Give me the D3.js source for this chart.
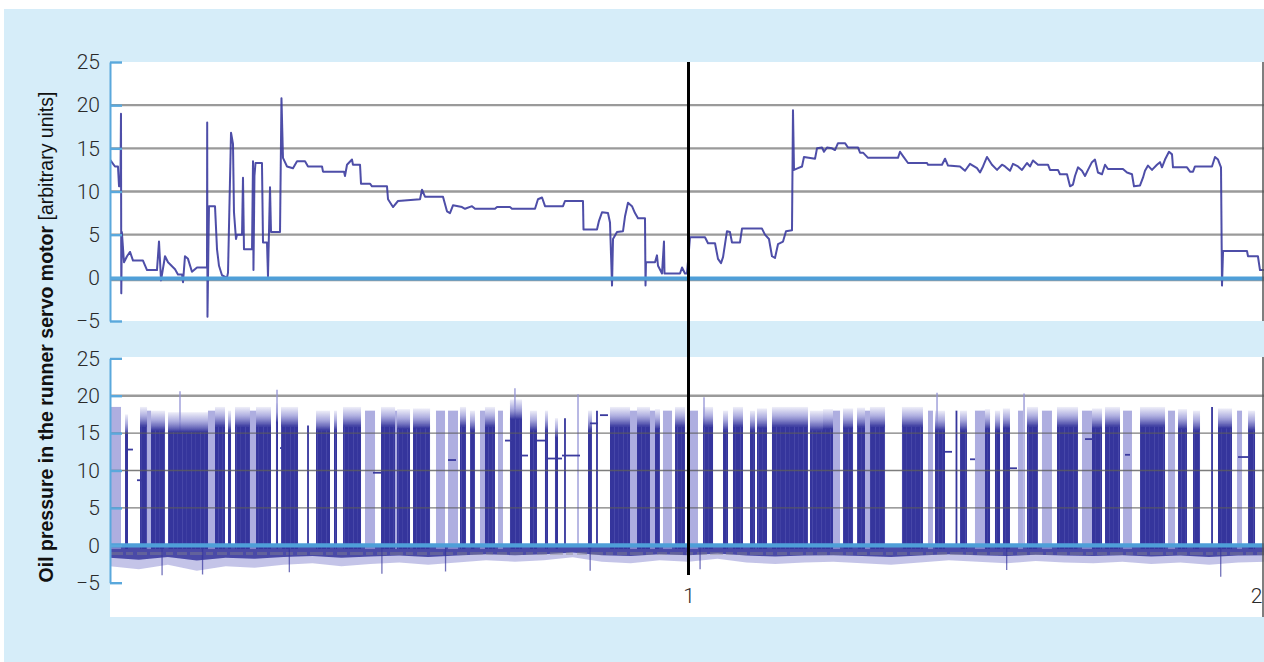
<!DOCTYPE html>
<html>
<head>
<meta charset="utf-8">
<script src="https://cdn.jsdelivr.net/npm/d3@7/dist/d3.min.js"></script>
<style>
  html, body { margin: 0; padding: 0; background: #ffffff; }
  svg { display: block; }
  .tick text { font-family: Roboto, "Liberation Sans", Arial, sans-serif; font-weight: 300; fill: #2a2a2a; }
</style>
</head>
<body>
<svg id="chart" width="1264" height="662"></svg>
<script>
// ---- Time axis ticks and labels ----
const xTickValues = [1, 2];
const yTickValues = [-5, 0, 5, 10, 15, 20, 25];
const gridValues = [5, 10, 15, 20];

// ---- Upper trace: oil pressure, one record [time, pressure] ----
const upperTrace = [
  [0, 13.7], [0.0086, 12.9], [0.0138, 12.9], [0.0156, 10.6], [0.018, 10.6],
  [0.019, 19.0], [0.0195, -1.8], [0.0205, 5.3], [0.0242, 1.8], [0.0294, 2.5],
  [0.0346, 3.0], [0.0398, 2.0], [0.057, 2.0], [0.064, 0.9], [0.0812, 0.9],
  [0.0847, 4.2], [0.0882, -0.3], [0.0951, 2.5], [0.1003, 1.8], [0.1124, 1.0],
  [0.1175, 0.4], [0.1245, 0.4], [0.1262, -0.5], [0.1296, 2.5], [0.1348, 2.2],
  [0.1417, 0.7], [0.1504, 1.2], [0.1677, 1.2], [0.168, 18.0], [0.1685, -4.5],
  [0.1711, 8.3], [0.1815, 8.3], [0.185, 3.3], [0.1884, 1.4], [0.1936, 0.3],
  [0.2022, 0.0], [0.204, 0.6], [0.2092, 16.8], [0.2126, 15.5], [0.2143, 7.6],
  [0.2178, 4.5], [0.2195, 5.0], [0.2282, 5.0], [0.2299, 11.6], [0.2316, 3.3],
  [0.2455, 3.3], [0.2472, 13.5], [0.248, 0.9], [0.2497, 11.8], [0.2515, 13.3],
  [0.2627, 13.3], [0.2645, 4.1], [0.2714, 4.1], [0.2731, 0.2], [0.2766, 10.5],
  [0.2783, 5.3], [0.2939, 5.3], [0.2964, 20.8], [0.299, 13.9], [0.306, 12.9],
  [0.3163, 12.7], [0.3233, 13.5], [0.3371, 13.5], [0.3423, 12.9], [0.3665, 12.9],
  [0.3682, 12.3], [0.4045, 12.3], [0.4062, 11.8], [0.4097, 13.1], [0.4183, 13.7],
  [0.42, 13.1], [0.4322, 13.1], [0.4339, 10.9], [0.4494, 10.9], [0.4529, 10.6],
  [0.4788, 10.6], [0.4806, 9.1], [0.4892, 8.2], [0.4978, 8.9], [0.5359, 9.1],
  [0.5393, 10.2], [0.5445, 9.4], [0.5756, 9.4], [0.5825, 7.7], [0.5877, 7.5],
  [0.5929, 8.4], [0.6085, 8.2], [0.6137, 8.0], [0.6258, 8.3], [0.631, 8.0],
  [0.6655, 8.0], [0.669, 8.2], [0.6914, 8.2], [0.6949, 8.0], [0.7347, 8.0],
  [0.7398, 9.1], [0.7468, 9.3], [0.752, 8.3], [0.7831, 8.3], [0.7865, 8.9],
  [0.8176, 8.9], [0.8185, 5.6], [0.8418, 5.6], [0.8453, 6.6], [0.8505, 7.6],
  [0.8608, 7.5], [0.8643, 6.4], [0.8678, -0.9], [0.8695, 4.5], [0.8764, 5.3],
  [0.8868, 5.4], [0.8902, 7.1], [0.8954, 8.7], [0.9023, 8.3], [0.9075, 7.5],
  [0.9127, 6.9], [0.9248, 6.9], [0.9257, -0.9], [0.9265, 1.8], [0.9421, 1.8],
  [0.9455, 2.6], [0.9473, 1.4], [0.9542, 0.5], [0.9576, 4.2], [0.9585, 0.5],
  [0.9853, 0.5], [0.9888, 1.2], [0.9939, 0.5], [0.9974, 0.5],
  [1.0026, 4.7], [1.0285, 4.7], [1.0337, 4.0], [1.0458, 4.0], [1.051, 2.2],
  [1.0562, 1.7], [1.0597, 2.4], [1.0665, 5.4], [1.0717, 5.3], [1.0752, 4.1],
  [1.089, 4.1], [1.0925, 5.7], [1.127, 5.7], [1.1322, 5.0], [1.1391, 4.5],
  [1.1443, 2.5], [1.1495, 2.3], [1.1547, 3.9], [1.1634, 4.2], [1.1685, 5.4],
  [1.1789, 5.5], [1.1806, 19.4], [1.1824, 12.5], [1.1893, 12.7], [1.1962, 12.9],
  [1.1996, 14.0], [1.2187, 13.8], [1.2221, 15.0], [1.2308, 15.1], [1.2342, 14.6],
  [1.2394, 15.1], [1.248, 15.0], [1.2532, 14.8], [1.2584, 15.6], [1.2705, 15.6],
  [1.2757, 15.1], [1.293, 15.1], [1.2965, 14.5], [1.3017, 14.5], [1.3103, 13.9],
  [1.3621, 13.9], [1.3656, 14.6], [1.3708, 14.1], [1.3794, 13.3], [1.4123, 13.3],
  [1.414, 13.1], [1.4382, 13.1], [1.4434, 13.8], [1.4486, 13.0], [1.4693, 12.9],
  [1.478, 12.4], [1.4866, 13.2], [1.4987, 12.7], [1.5039, 12.2], [1.5091, 12.9],
  [1.516, 14.0], [1.5246, 13.1], [1.5333, 12.5], [1.5419, 13.1], [1.5471, 12.9],
  [1.5557, 12.4], [1.5609, 13.2], [1.5696, 12.9], [1.5765, 12.5], [1.5851, 13.3],
  [1.5903, 12.9], [1.5955, 13.6], [1.6041, 13.1], [1.6214, 13.1], [1.6249, 12.5],
  [1.6387, 12.5], [1.6421, 12.0], [1.6543, 12.0], [1.6595, 10.6], [1.6646, 10.8],
  [1.6681, 11.8], [1.6733, 12.8], [1.6802, 12.4], [1.6854, 11.8], [1.6906, 12.5],
  [1.6974, 13.4], [1.7026, 13.7], [1.7078, 12.2], [1.7148, 12.0], [1.72, 13.1],
  [1.7251, 12.6], [1.751, 12.6], [1.758, 12.2], [1.7666, 12.0], [1.7701, 10.6],
  [1.7805, 10.7], [1.7856, 11.6], [1.7891, 12.4], [1.7943, 13.0], [1.8012, 12.5],
  [1.8098, 13.1], [1.815, 13.4], [1.8185, 12.8], [1.8237, 13.7], [1.8306, 14.6],
  [1.8358, 14.3], [1.8375, 12.8], [1.8617, 12.8], [1.8669, 12.3], [1.8721, 12.3],
  [1.8755, 12.9], [1.9049, 12.9], [1.9101, 14.0], [1.9153, 13.7], [1.9205, 12.8],
  [1.9222, -0.9], [1.924, 3.1], [1.9654, 3.1], [1.9672, 2.5], [1.9843, 2.5],
  [1.9879, 0.9], [1.9948, 0.9]
];

// ---- Lower trace: rapid on/off cycling, summarised as bursts [start, end, peak] ----
const denseBursts = [
  [0.026, 0.0311, 17.5], [0.0519, 0.064, 18.5], [0.0709, 0.0951, 18.0], [0.1003, 0.1694, 17.8],
  [0.1815, 0.1988, 18.5], [0.204, 0.2092, 18.0], [0.2161, 0.242, 18.5], [0.2524, 0.2783, 18.5],
  [0.2869, 0.2904, 19.0], [0.2956, 0.325, 18.5], [0.3561, 0.3803, 18.0], [0.3872, 0.3924, 18.0],
  [0.4028, 0.4339, 18.5], [0.4685, 0.4927, 18.5], [0.4962, 0.5186, 18.2], [0.5238, 0.5532, 18.3],
  [0.605, 0.6154, 18.5], [0.6223, 0.6309, 18.0], [0.6482, 0.6655, 18.5], [0.6914, 0.7122, 19.5],
  [0.726, 0.7381, 18.0], [0.7519, 0.7571, 18.0], [0.7692, 0.7744, 17.0], [0.8263, 0.8332, 18.0],
  [0.8643, 0.8989, 18.5], [0.911, 0.9334, 18.5], [0.9421, 0.9507, 18.2], [0.9767, 0.9939, 18.5],
  [1.0251, 1.0424, 18.5], [1.0597, 1.0683, 18.0], [1.0769, 1.0942, 18.5], [1.1063, 1.115, 18.0],
  [1.1184, 1.1357, 18.3], [1.1443, 1.2065, 18.5], [1.21, 1.2325, 18.0], [1.2325, 1.2498, 18.2],
  [1.2671, 1.2844, 18.3], [1.2913, 1.3051, 18.4], [1.3137, 1.3397, 18.5], [1.369, 1.4053, 18.5],
  [1.4261, 1.4434, 18.0], [1.4693, 1.4814, 18.0], [1.5125, 1.5212, 18.2], [1.5298, 1.5385, 18.0],
  [1.5436, 1.5557, 18.3], [1.5851, 1.6041, 18.5], [1.637, 1.6733, 18.5], [1.6975, 1.7148, 18.3],
  [1.72, 1.7459, 18.5], [1.7805, 1.8237, 18.5], [1.8462, 1.8617, 18.2], [1.8721, 1.8842, 18.0],
  [1.9153, 1.9395, 18.3], [1.9672, 1.9793, 18.0]
];
const sparseBursts = [
  [0.0017, 0.019, 18.5], [0.064, 0.0709, 18.0], [0.1694, 0.1815, 18.0], [0.242, 0.2524, 18.0],
  [0.4408, 0.4581, 18.0], [0.4927, 0.4962, 18.0], [0.5635, 0.5791, 18.0], [0.5843, 0.6016, 18.0],
  [0.6396, 0.6482, 18.0], [0.6707, 0.6793, 18.0], [0.8989, 0.911, 18.0], [0.9334, 0.9421, 18.0],
  [0.9559, 0.9715, 18.0], [1.0026, 1.0164, 18.0], [1.2498, 1.2619, 18.0], [1.3051, 1.3137, 18.0],
  [1.414, 1.4226, 18.0], [1.4952, 1.5125, 18.0], [1.5696, 1.5782, 18.0], [1.611, 1.6283, 18.0],
  [1.6802, 1.6975, 18.0], [1.7511, 1.7666, 18.0], [1.8289, 1.841, 18.0], [1.9482, 1.9568, 18.0]
];
// isolated single strokes [time, peak]
const singleStrokes = [
  [0.3423, 16.0], [0.7865, 17.0], [0.8418, 18.0], [1.4632, 18.0], [1.905, 18.5]
];
// short overshoots above the 20 line [time, peak]
const overshoots = [
  [0.121, 20.6], [0.2887, 20.8], [0.7, 21.0], [0.809, 20.2], [1.0268, 19.8], [1.4296, 20.4], [1.58, 20.3]
];
// level holds between bursts [start, end, level]
const levelHolds = [
  [0.0311, 0.0397, 12.8], [0.0467, 0.0553, 8.7], [0.2939, 0.3008, 13.0], [0.4546, 0.4685, 9.7],
  [0.5843, 0.5981, 11.4], [0.6828, 0.6949, 14.0], [0.7105, 0.7226, 12.0], [0.7381, 0.7519, 14.0],
  [0.7571, 0.7813, 11.6], [0.7813, 0.8125, 12.0], [0.8297, 0.8436, 16.3], [0.847, 0.8608, 17.4],
  [1.4434, 1.4555, 12.5], [1.4866, 1.4952, 11.5], [1.5557, 1.5679, 10.3], [1.6854, 1.7026, 14.2],
  [1.7545, 1.7632, 12.1], [1.9499, 1.9706, 11.8]
];
// undershoot envelope below zero [time, minimum]
const undershoot = [
  [0, -2.8], [0.05, -3.2], [0.1, -2.6], [0.15, -3.4], [0.2, -2.8], [0.25, -3.0], [0.3, -2.6],
  [0.35, -2.4], [0.4, -2.8], [0.45, -2.5], [0.5, -2.3], [0.55, -2.6], [0.6, -2.3], [0.65, -2.0],
  [0.7, -2.2], [0.75, -2.0], [0.8, -1.6], [0.85, -2.2], [0.9, -2.4], [0.95, -2.0], [1.0, -2.2],
  [1.05, -1.8], [1.1, -2.3], [1.15, -2.5], [1.2, -2.3], [1.25, -2.2], [1.3, -2.4], [1.35, -2.6],
  [1.4, -2.3], [1.45, -2.0], [1.5, -2.2], [1.55, -2.4], [1.6, -2.1], [1.65, -2.3], [1.7, -2.4],
  [1.75, -2.2], [1.8, -2.5], [1.85, -2.3], [1.9, -2.6], [1.95, -2.3], [2.0, -2.2]
];
// deeper dips [time, minimum]
const deepDips = [
  [0.09, -4.0], [0.16, -3.9], [0.31, -3.6], [0.47, -3.8], [0.58, -3.5], [0.83, -3.4],
  [1.02, -3.2], [1.55, -3.3], [1.92, -4.2]
];

// ---- Layout ----
const svg = d3.select("#chart");
const W = 1264, H = 662;
const plotLeft = 110, plotRight = 1264;
const upper = { top: 62, bottom: 321 };
const lower = { top: 357, bottom: 617, axisTop: 358.3, axisBottom: 582.7 };

const x = d3.scaleLinear().domain([0, 2]).range([110, 1267]);
const yUp = d3.scaleLinear().domain([-5, 25]).range([321, 62]);
const yLo = d3.scaleLinear().domain([-5, 25]).range([lower.axisBottom, lower.axisTop]);

const C = {
  panelBg: "#d6edf9",
  axis: "#5aa8dc",
  zero: "#4f9fd8",
  grid: "#9a9a9a",
  gridDark: "#5c5c5c",
  trace: "#3a3a9e",
  dense: "#34349c",
  sparse: "#9393d5",
  text: "#2a2a2a"
};

const defs = svg.append("defs");
defs.append("filter").attr("id", "soft").attr("x", "-5%").attr("y", "-5%").attr("width", "110%").attr("height", "110%")
  .append("feGaussianBlur").attr("stdDeviation", 0.55);
defs.append("clipPath").attr("id", "clipUp").append("rect")
  .attr("x", plotLeft).attr("y", upper.top).attr("width", plotRight - plotLeft).attr("height", upper.bottom - upper.top);
defs.append("clipPath").attr("id", "clipLo").append("rect")
  .attr("x", plotLeft).attr("y", lower.top).attr("width", plotRight - plotLeft).attr("height", lower.bottom - lower.top);
// stroke texture inside dense bursts (individual cycles)
const tex = defs.append("pattern").attr("id", "cycles").attr("patternUnits", "userSpaceOnUse")
  .attr("width", 9).attr("height", 10);
tex.append("rect").attr("width", 9).attr("height", 10).attr("fill", C.dense);
tex.append("rect").attr("x", 2).attr("width", 0.7).attr("height", 10).attr("fill", "#7070c4").attr("opacity", 0.4);
tex.append("rect").attr("x", 6.3).attr("width", 0.5).attr("height", 10).attr("fill", "#8080cc").attr("opacity", 0.3);
// soft cap at the top of each burst
const cap = defs.append("linearGradient").attr("id", "capFade")
  .attr("x1", 0).attr("y1", 0).attr("x2", 0).attr("y2", 1);
cap.append("stop").attr("offset", "0%").attr("stop-color", C.sparse).attr("stop-opacity", 0.15);
cap.append("stop").attr("offset", "45%").attr("stop-color", C.sparse).attr("stop-opacity", 0.75);
cap.append("stop").attr("offset", "100%").attr("stop-color", C.dense).attr("stop-opacity", 1);

// background
svg.append("rect").attr("x", 4).attr("y", 9).attr("width", W - 4).attr("height", H - 9).attr("fill", C.panelBg);

// white plotting areas
svg.append("rect").attr("x", plotLeft).attr("y", upper.top).attr("width", plotRight - plotLeft)
  .attr("height", upper.bottom - upper.top).attr("fill", "#fff");
svg.append("rect").attr("x", plotLeft).attr("y", lower.top).attr("width", plotRight - plotLeft)
  .attr("height", lower.bottom - lower.top).attr("fill", "#fff");

// ---- Upper panel ----
const gUp = svg.append("g").attr("clip-path", "url(#clipUp)");
gUp.selectAll("line.grid").data(gridValues).join("line")
  .attr("x1", plotLeft).attr("x2", plotRight)
  .attr("y1", d => yUp(d)).attr("y2", d => yUp(d))
  .attr("stroke", C.grid).attr("stroke-width", 2.4);
gUp.append("line").attr("x1", plotLeft).attr("x2", plotRight)
  .attr("y1", yUp(0) + 2.6).attr("y2", yUp(0) + 2.6)
  .attr("stroke", C.grid).attr("stroke-width", 1.6);

const line = d3.line().x(d => x(d[0])).y(d => yUp(d[1]));
gUp.append("path").datum(upperTrace)
  .attr("d", line).attr("fill", "none")
  .attr("stroke", C.trace).attr("stroke-width", 2).attr("stroke-opacity", 0.9)
  .attr("stroke-linejoin", "round")
  .attr("filter", "url(#soft)");

gUp.append("line").attr("x1", plotLeft).attr("x2", plotRight)
  .attr("y1", yUp(0) + 0.6).attr("y2", yUp(0) + 0.6)
  .attr("stroke", C.zero).attr("stroke-width", 4);

// ---- Lower panel ----
const gLo = svg.append("g").attr("clip-path", "url(#clipLo)");
gLo.append("line").attr("x1", plotLeft).attr("x2", plotRight)
  .attr("y1", yLo(20)).attr("y2", yLo(20))
  .attr("stroke", C.grid).attr("stroke-width", 2.4);

const data = gLo.append("g").attr("filter", "url(#soft)");

// undershoot band
data.append("path").datum(undershoot)
  .attr("d", d3.area().x(d => x(d[0])).y0(yLo(0)).y1(d => yLo(d[1])))
  .attr("fill", C.sparse).attr("fill-opacity", 0.55);
data.append("path").datum(undershoot)
  .attr("d", d3.area().x(d => x(d[0])).y0(yLo(0)).y1(d => yLo(d[1] * 0.6)))
  .attr("fill", C.dense).attr("fill-opacity", 0.85);
data.append("line").attr("x1", plotLeft).attr("x2", plotRight)
  .attr("y1", yLo(-1.1)).attr("y2", yLo(-1.1))
  .attr("stroke", "#8a8a8a").attr("stroke-opacity", 0.4).attr("stroke-width", 3)
  .attr("stroke-dasharray", "13 3 7 4 10 3");
data.selectAll("line.dip").data(deepDips).join("line")
  .attr("x1", d => x(d[0])).attr("x2", d => x(d[0]))
  .attr("y1", yLo(0)).attr("y2", d => yLo(d[1]))
  .attr("stroke", C.dense).attr("stroke-width", 1.3).attr("stroke-opacity", 0.7);

// sparse (light) bursts
data.selectAll("rect.sparse").data(sparseBursts).join("rect")
  .attr("x", d => x(d[0])).attr("width", d => Math.max(1.5, x(d[1]) - x(d[0])))
  .attr("y", d => yLo(d[2])).attr("height", d => yLo(-0.5) - yLo(d[2]))
  .attr("fill", C.sparse).attr("fill-opacity", 0.75);

// overshoot strokes
data.selectAll("line.over").data(overshoots).join("line")
  .attr("x1", d => x(d[0])).attr("x2", d => x(d[0]))
  .attr("y1", yLo(0)).attr("y2", d => yLo(d[1]))
  .attr("stroke", C.sparse).attr("stroke-width", 1.3);

// dense bursts: solid body, then a fading cap reaching the peak
const capSpan = 2.6;
data.selectAll("rect.dense").data(denseBursts).join("rect")
  .attr("x", d => x(d[0])).attr("width", d => Math.max(2, x(d[1]) - x(d[0])))
  .attr("y", d => yLo(d[2] - capSpan)).attr("height", d => yLo(-0.5) - yLo(d[2] - capSpan))
  .attr("fill", "url(#cycles)");
data.selectAll("rect.cap").data(denseBursts).join("rect")
  .attr("x", d => x(d[0])).attr("width", d => Math.max(2, x(d[1]) - x(d[0])))
  .attr("y", d => yLo(d[2])).attr("height", d => yLo(d[2] - capSpan) - yLo(d[2]) + 0.5)
  .attr("fill", "url(#capFade)");

// single strokes
data.selectAll("line.single").data(singleStrokes).join("line")
  .attr("x1", d => x(d[0])).attr("x2", d => x(d[0]))
  .attr("y1", yLo(0)).attr("y2", d => yLo(d[1]))
  .attr("stroke", C.dense).attr("stroke-width", 1.8);

// level holds between bursts
data.selectAll("line.hold").data(levelHolds).join("line")
  .attr("x1", d => x(d[0])).attr("x2", d => x(d[1]))
  .attr("y1", d => yLo(d[2])).attr("y2", d => yLo(d[2]))
  .attr("stroke", C.trace).attr("stroke-width", 1.8);

// grid lines drawn over the bursts
gLo.selectAll("line.gridover").data([5, 10, 15]).join("line")
  .attr("x1", plotLeft).attr("x2", plotRight)
  .attr("y1", d => yLo(d)).attr("y2", d => yLo(d))
  .attr("stroke", C.gridDark).attr("stroke-width", 1.4).attr("stroke-opacity", 0.8);
gLo.append("line").attr("x1", plotLeft).attr("x2", plotRight)
  .attr("y1", yLo(0)).attr("y2", yLo(0))
  .attr("stroke", C.zero).attr("stroke-width", 4.2);

// right-hand border of both panels
[[upper.top, upper.bottom], [lower.top, lower.bottom]].forEach(([a, b]) => {
  svg.append("line").attr("x1", 1263).attr("x2", 1263).attr("y1", a).attr("y2", b)
    .attr("stroke", "#555").attr("stroke-width", 1.5);
});

// ---- Axes ----
function styleYAxis(g) {
  g.select(".domain").attr("stroke", C.axis).attr("stroke-width", 2);
  g.selectAll(".tick line").attr("stroke", C.axis).attr("stroke-width", 2.4);
  g.selectAll(".tick text").attr("font-size", 21).attr("fill", C.text);
}
svg.append("g").attr("transform", `translate(${plotLeft},0)`)
  .call(d3.axisLeft(yUp).tickValues(yTickValues).tickSize(-12).tickSizeOuter(0).tickPadding(10).tickFormat(d3.format("d")))
  .call(styleYAxis);
svg.append("g").attr("transform", `translate(${plotLeft},0)`)
  .call(d3.axisLeft(yLo).tickValues(yTickValues).tickSize(-12).tickSizeOuter(0).tickPadding(10).tickFormat(d3.format("d")))
  .call(styleYAxis);

// marker at time 1 spanning both panels
svg.append("line").attr("x1", x(1)).attr("x2", x(1))
  .attr("y1", upper.top).attr("y2", 575)
  .attr("stroke", "#000").attr("stroke-width", 3);

// time axis labels
const xAxis = svg.append("g").attr("transform", `translate(0,${583})`)
  .call(d3.axisBottom(x).tickValues(xTickValues).tickSize(0).tickPadding(5).tickFormat(d3.format("d")));
xAxis.select(".domain").remove();
xAxis.selectAll(".tick text").attr("font-size", 21).attr("fill", C.text);
xAxis.selectAll(".tick").filter(d => d === 2).select("text")
  .attr("text-anchor", "end").attr("x", -5);

// y title
const title = svg.append("text")
  .attr("transform", "translate(53,337) rotate(-90)")
  .attr("text-anchor", "middle")
  .attr("font-family", "'Liberation Sans', Arial, sans-serif")
  .attr("font-size", 19.5).attr("fill", "#111");
title.append("tspan").attr("font-weight", "bold").text("Oil pressure in the runner servo motor");
title.append("tspan").attr("font-weight", "normal").text(" [arbitrary units]");
</script>
</body>
</html>
